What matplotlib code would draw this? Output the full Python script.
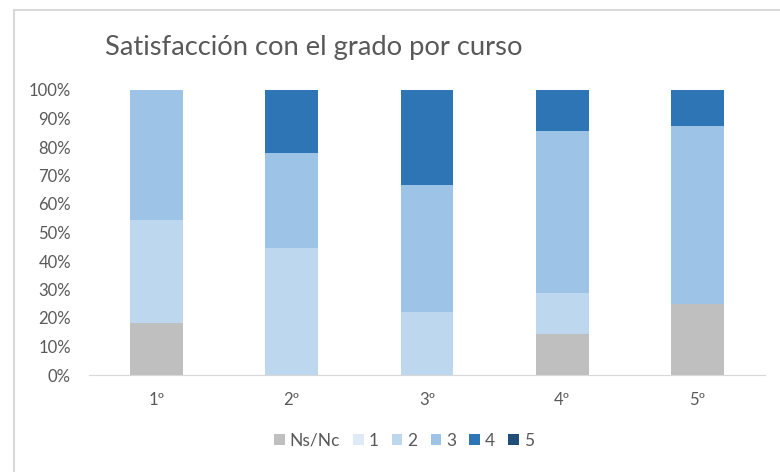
import matplotlib
matplotlib.use('Agg')
import matplotlib.pyplot as plt
from matplotlib.lines import Line2D
from matplotlib.ticker import PercentFormatter

plt.rcParams['font.family'] = ['Lato', 'DejaVu Sans']

cursos = ['1º', '2º', '3º', '4º', '5º']
series = ['Ns/Nc', '1', '2', '3', '4', '5']
colores = ['#BFBFBF', '#DEEBF7', '#BDD7EE', '#9DC3E6', '#2E75B6', '#1F4E79']

# porcentajes por curso
ns_nc = [18.2, 0, 0, 14.3, 25.0]
v1 = [0, 0, 0, 0, 0]
v2 = [36.3, 44.4, 22.2, 14.3, 0]
v3 = [45.5, 33.4, 44.5, 57.1, 62.5]
v4 = [0, 22.2, 33.3, 14.3, 12.5]
v5 = [0, 0, 0, 0, 0]
valores = [ns_nc, v1, v2, v3, v4, v5]

fig = plt.figure(figsize=(7.8, 4.72), dpi=100)
ax = fig.add_axes([89/780, 1-375/472, 676/780, 285/472])

x = range(len(cursos))
base = [0]*len(cursos)
for nombre, col, vals in zip(series, colores, valores):
    ax.bar(x, vals, width=0.39, bottom=base, color=col, label=nombre)
    base = [b+v for b, v in zip(base, vals)]

ax.set_xlim(-0.5, 4.5)
ax.set_ylim(0, 100)
ax.set_yticks(range(0, 101, 10))
ax.yaxis.set_major_formatter(PercentFormatter(decimals=0))
ax.set_xticks(list(x))
ax.set_xticklabels(cursos)
ax.tick_params(axis='both', length=0, colors='#595959', labelsize=12)
ax.tick_params(axis='x', pad=12)
ax.tick_params(axis='y', pad=13)
for s in ['top', 'right', 'left']:
    ax.spines[s].set_visible(False)
ax.spines['bottom'].set_color('#D9D9D9')

fig.text(105/780, 1-47/472, 'Satisfacción con el grado por curso', fontsize=19.7,
         color='#595959', va='center', ha='left')

leg = fig.legend(loc='center', bbox_to_anchor=(404/780, 1-441/472), ncol=6,
                 frameon=False, fontsize=12.5, handlelength=0.6, handleheight=0.6,
                 handletextpad=0.3, columnspacing=0.75)
for t in leg.get_texts():
    t.set_color('#595959')

# borde del área de gráfico (recortado)
fig.add_artist(Line2D([14/780, 14/780], [0, 1-10/472], color='#D9D9D9', lw=1.5))
fig.add_artist(Line2D([14/780, 1], [1-10/472, 1-10/472], color='#D9D9D9', lw=1.5))

fig.savefig('out.png', dpi=100)
